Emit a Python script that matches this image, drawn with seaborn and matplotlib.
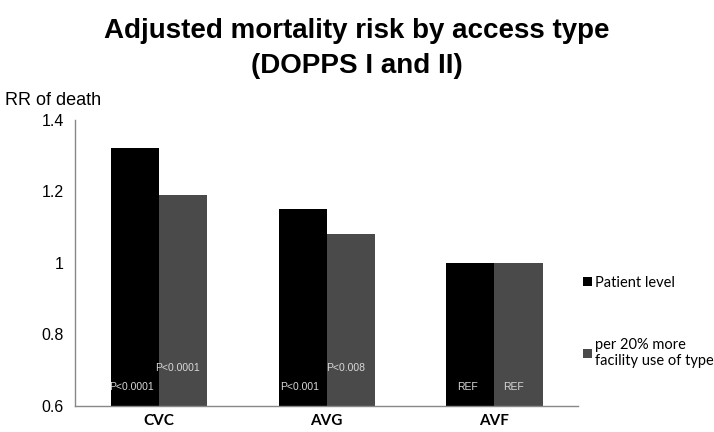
import numpy as np
import pandas as pd
import matplotlib
matplotlib.use("Agg")
import matplotlib.pyplot as plt
import seaborn as sns

# data
access_types = ["CVC", "AVG", "AVF"]
series_names = ["Patient level", "per 20% more\nfacility use of type"]
patient_rr = [1.32, 1.15, 1.00]
facility_rr = [1.19, 1.08, 1.00]
patient_p = ["P<0.0001", "P<0.001", "REF"]
facility_p = ["P<0.0001", "P<0.008", "REF"]
y_ticks = [0.6, 0.8, 1.0, 1.2, 1.4]
y_tick_labels = ["0.6", "0.8", "1", "1.2", "1.4"]

df = pd.DataFrame({
    "access": access_types * 2,
    "series": [series_names[0]] * 3 + [series_names[1]] * 3,
    "rr": patient_rr + facility_rr,
})

sns.set_style("white")
plt.rcParams["font.family"] = ["Liberation Sans", "DejaVu Sans"]
plt.rcParams["text.color"] = "black"
plt.rcParams["xtick.color"] = "black"
plt.rcParams["ytick.color"] = "black"

fig = plt.figure(figsize=(7.14, 4.32), dpi=100)
ax = fig.add_axes([0.105, 0.060, 0.705, 0.663])

sns.barplot(data=df, x="access", y="rr", hue="series", order=access_types,
            hue_order=series_names, palette=["#000000", "#4a4a4a"],
            width=0.573, gap=0, saturation=1, linewidth=0, ax=ax, legend=True)

ax.set_ylim(0.6, 1.4)
ax.set_xlim(-0.5, 2.5)
ax.set_yticks(y_ticks)
ax.set_yticklabels(y_tick_labels, fontsize=11.5)
ax.set_xlabel("")
ax.set_ylabel("")
ax.tick_params(axis="x", length=0, labelsize=11, pad=6)
ax.tick_params(axis="y", length=4, color="#888888", direction="out", pad=4)
ax.set_xticks([0.5, 1.5, 2.5], minor=True)
ax.tick_params(axis="x", which="minor", length=4, color="#888888", direction="out")
for lbl in ax.get_xticklabels():
    lbl.set_family(["Lato", "DejaVu Sans"])
    lbl.set_fontweight("bold")

for s in ["top", "right"]:
    ax.spines[s].set_visible(False)
for s in ["left", "bottom"]:
    ax.spines[s].set_color("#888888")
    ax.spines[s].set_linewidth(1)

# p-value labels inside the bars
bar_w = 0.573 / 2
for i in range(len(access_types)):
    ax.text(i - bar_w / 2 - 0.02, 0.652, patient_p[i], ha="center", va="center",
            fontsize=7.5, color="#d8d8d8")
    ax.text(i + bar_w / 2 - 0.03, 0.705 if facility_p[i] != "REF" else 0.652,
            facility_p[i], ha="center", va="center", fontsize=7.5, color="#d8d8d8")

leg = ax.legend(loc="upper left", bbox_to_anchor=(1.01, 0.455), frameon=False,
                borderpad=0, borderaxespad=0,
                handlelength=0.6, handleheight=0.6, handletextpad=0.2,
                labelspacing=3.3, prop={"family": ["Lato", "DejaVu Sans"], "size": 10.5})

fig.text(0.5, 0.958, "Adjusted mortality risk by access type\n(DOPPS I and II)",
         ha="center", va="top", fontsize=20, fontweight="bold", linespacing=1.45)
fig.text(0.007, 0.768, "RR of death", ha="left", va="center", fontsize=13)

fig.savefig("out.png", dpi=100)
